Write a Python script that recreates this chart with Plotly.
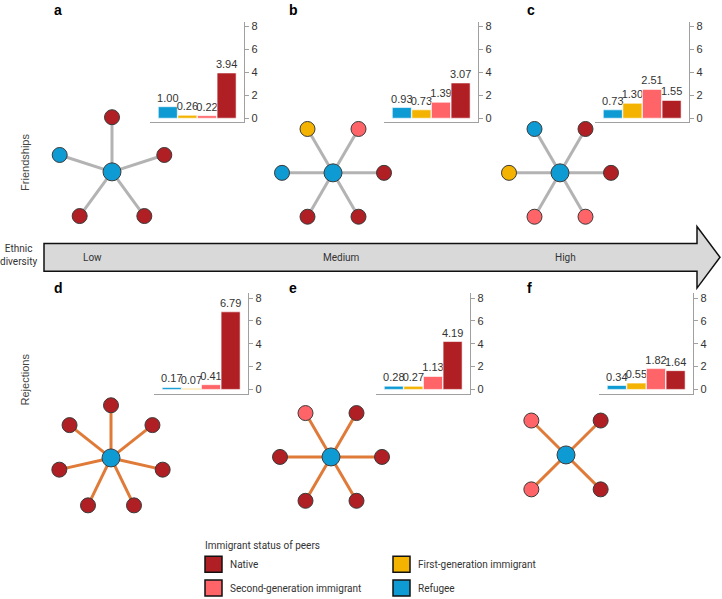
import math
import plotly.graph_objects as go

W, H = 722, 599

# ---------------- data ----------------
groups = ["Refugee", "First-generation immigrant", "Second-generation immigrant", "Native"]
group_colors = ["#0E9BD4", "#F3B300", "#FF6468", "#B01F24"]

friend_a = [1.00, 0.26, 0.22, 3.94]
friend_b = [0.93, 0.73, 1.39, 3.07]
friend_c = [0.73, 1.30, 2.51, 1.55]
reject_d = [0.17, 0.07, 0.41, 6.79]
reject_e = [0.28, 0.27, 1.13, 4.19]
reject_f = [0.34, 0.55, 1.82, 1.64]

# peers of the focal refugee (clockwise, starting at start angle)
peers_a = ["Native", "Native", "Native", "Native", "Refugee"]
peers_b = ["First-generation immigrant", "Second-generation immigrant", "Native", "Native", "Native", "Refugee"]
peers_c = ["Refugee", "Native", "Native", "Second-generation immigrant", "Second-generation immigrant", "First-generation immigrant"]
peers_d = ["Native"] * 7
peers_e = ["Second-generation immigrant", "Native", "Native", "Native", "Native", "Native"]
peers_f = ["Second-generation immigrant", "Native", "Native", "Second-generation immigrant"]

diversity_labels = ["Low", "Medium", "High"]
row_labels = ["Friendships", "Rejections"]
panel_letters = ["a", "b", "c", "d", "e", "f"]

color_of = dict(zip(groups, group_colors))

# ---------------- layout (pixel geometry) ----------------
panels = [
    dict(vals=friend_a, peers=peers_a, bar_left=158, top=20, bottom=121, zero=117, eight=24.5,
         center=(112, 171), radius=55, start=90, edge="#B3B3B3", letter=(52, 8)),
    dict(vals=friend_b, peers=peers_b, bar_left=392, top=20, bottom=121, zero=117, eight=24.5,
         center=(333, 172), radius=51, start=120, edge="#B3B3B3", letter=(287, 8)),
    dict(vals=friend_c, peers=peers_c, bar_left=603, top=20, bottom=121, zero=117, eight=24.5,
         center=(560, 172), radius=51, start=120, edge="#B3B3B3", letter=(525, 8)),
    dict(vals=reject_d, peers=peers_d, bar_left=162, top=293, bottom=394.5, zero=390, eight=298,
         center=(111, 459), radius=53, start=90, edge="#E07A38", letter=(52, 288)),
    dict(vals=reject_e, peers=peers_e, bar_left=384, top=293, bottom=394.5, zero=390, eight=298,
         center=(331, 458), radius=51, start=120, edge="#E07A38", letter=(287, 288)),
    dict(vals=reject_f, peers=peers_f, bar_left=607, top=293, bottom=394.5, zero=390, eight=298,
         center=(566, 456), radius=49, start=135, edge="#E07A38", letter=(525, 288)),
]

pitch = 19.6
gap = 8
FONT = "Liberation Sans, Arial, sans-serif"
TXT = "#333333"
AX = "#A0A0A0"

fig = go.Figure()
layout = dict(
    width=W, height=H, margin=dict(l=0, r=0, t=0, b=0),
    paper_bgcolor="white", plot_bgcolor="rgba(0,0,0,0)",
    showlegend=False, bargap=0.03,
    font=dict(family=FONT, size=11, color=TXT),
)

for i, p in enumerate(panels):
    n = i + 1
    xa, ya = f"xaxis{n}", f"yaxis{n}"
    xr, yr = f"x{n}", f"y{n}"
    left_px = p["bar_left"] - gap
    right_px = p["bar_left"] + 4 * pitch + gap
    ppu = (p["zero"] - p["eight"]) / 8.0
    y0 = -(p["bottom"] - p["zero"]) / ppu
    y1 = 8 + (p["eight"] - p["top"]) / ppu
    fig.add_trace(go.Bar(
        x=list(range(len(groups))), y=p["vals"],
        marker=dict(color=group_colors, line=dict(color="white", width=0.6)),
        text=[f"{v:.2f}" for v in p["vals"]], textposition="outside",
        textfont=dict(family=FONT, size=11, color=TXT),
        constraintext="none", cliponaxis=False, hoverinfo="skip",
        xaxis=xr, yaxis=yr,
    ))
    layout[xa] = dict(domain=[left_px / W, right_px / W], anchor=yr,
                      range=[-0.5 - gap / pitch, 3.5 + gap / pitch],
                      showline=True, linecolor=AX, linewidth=1, showticklabels=False,
                      ticks="", showgrid=False, zeroline=False, fixedrange=True)
    layout[ya] = dict(domain=[1 - p["bottom"] / H, 1 - p["top"] / H], anchor=xr, side="right",
                      range=[y0, y1], tickvals=[0, 2, 4, 6, 8], ticks="outside", ticklen=4,
                      tickcolor=AX, showline=True, linecolor=AX, linewidth=1,
                      tickfont=dict(family=FONT, size=11, color=TXT),
                      showgrid=False, zeroline=False, fixedrange=True)

# overlay pixel axis for diagrams
layout["xaxis7"] = dict(domain=[0, 1], range=[0, W], visible=False, fixedrange=True, anchor="y7")
layout["yaxis7"] = dict(domain=[0, 1], range=[H, 0], visible=False, fixedrange=True, anchor="x7")

for p in panels:
    cx, cy = p["center"]
    k = len(p["peers"])
    ex, ey, nx, ny, nc = [], [], [], [], []
    for j, g in enumerate(p["peers"]):
        ang = math.radians(p["start"] - 360.0 * j / k)
        px = cx + p["radius"] * math.cos(ang)
        py = cy - p["radius"] * math.sin(ang)
        ex += [cx, px, None]
        ey += [cy, py, None]
        nx.append(px); ny.append(py); nc.append(color_of[g])
    fig.add_trace(go.Scatter(x=ex, y=ey, mode="lines", line=dict(color=p["edge"], width=3),
                             hoverinfo="skip", xaxis="x7", yaxis="y7"))
    fig.add_trace(go.Scatter(x=nx, y=ny, mode="markers",
                             marker=dict(size=15, color=nc, line=dict(color="#3A3A3A", width=1)),
                             hoverinfo="skip", xaxis="x7", yaxis="y7"))
    fig.add_trace(go.Scatter(x=[cx], y=[cy], mode="markers",
                             marker=dict(size=18, color=color_of["Refugee"], line=dict(color="#3A3A3A", width=1)),
                             hoverinfo="skip", xaxis="x7", yaxis="y7"))

shapes = []
annotations = []

# arrow
shapes.append(dict(type="path", xref="x7", yref="y7",
                   path="M 44,243 L 697,243 L 697,226 L 720,257 L 697,288 L 697,271 L 44,271 Z",
                   fillcolor="#D9D9D9", line=dict(color="#111111", width=1.5), layer="below"))

SANS2 = "Roboto, Liberation Sans, sans-serif"
annotations.append(dict(x=18, y=255, xref="x7", yref="y7", text="Ethnic<br>diversity", showarrow=False,
                        font=dict(family=SANS2, size=10, color=TXT), xanchor="center", yanchor="middle"))
for lab, x in zip(diversity_labels, [92, 341, 565]):
    annotations.append(dict(x=x, y=257, xref="x7", yref="y7", text=lab, showarrow=False,
                            font=dict(family=SANS2, size=10, color=TXT), xanchor="center", yanchor="middle"))

for lab, y in zip(row_labels, [162, 380]):
    annotations.append(dict(x=25, y=y, xref="x7", yref="y7", text=lab, showarrow=False, textangle=-90,
                            font=dict(family=FONT, size=11, color="#444444"), xanchor="center", yanchor="middle"))

for p, letter in zip(panels, panel_letters):
    lx, ly = p["letter"]
    annotations.append(dict(x=lx, y=ly, xref="x7", yref="y7", text=f"<b>{letter}</b>", showarrow=False,
                            font=dict(family=FONT, size=14, color="#000000"), xanchor="left", yanchor="middle"))

# legend
annotations.append(dict(x=203, y=547, xref="x7", yref="y7", text="Immigrant status of peers", showarrow=False,
                        font=dict(family=SANS2, size=10, color=TXT), xanchor="left", yanchor="middle"))
legend_order = ["Native", "First-generation immigrant", "Second-generation immigrant", "Refugee"]
for idx, g in enumerate(legend_order):
    col, row = idx % 2, idx // 2
    sx = 205 + col * 188
    sy = 566 + row * 24
    shapes.append(dict(type="rect", xref="x7", yref="y7", x0=sx, x1=sx + 17, y0=sy - 8, y1=sy + 8,
                       fillcolor=color_of[g], line=dict(color="#111111", width=1.5)))
    annotations.append(dict(x=sx + 23, y=sy, xref="x7", yref="y7", text=g, showarrow=False,
                            font=dict(family=SANS2, size=10, color=TXT), xanchor="left", yanchor="middle"))

layout["shapes"] = shapes
layout["annotations"] = annotations
fig.update_layout(**layout)
fig.write_html("out.html", config={"displayModeBar": False, "staticPlot": True},
               post_script="document.body.style.margin='0';document.body.style.overflow='hidden';")
